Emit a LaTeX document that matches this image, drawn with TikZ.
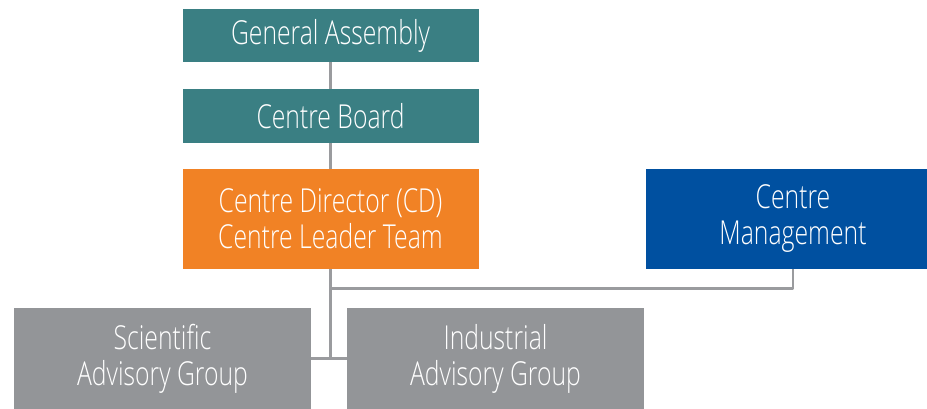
\documentclass[tikz,border=0pt]{standalone}
\usepackage{fontspec}
\setmainfont{Open Sans}[UprightFont=* Light,FakeStretch=0.75]
\definecolor{teal}{HTML}{3A7F83}
\definecolor{orng}{HTML}{F18225}
\definecolor{blu}{HTML}{0050A0}
\definecolor{gry}{HTML}{939598}
\definecolor{lnk}{HTML}{9A9B9E}
\begin{document}
\begin{tikzpicture}[x=1pt,y=-1pt,line join=round,
 box/.style={inner sep=0pt,align=center,text=white,font=\fontsize{33}{36}\selectfont},
 link/.style={draw=lnk,line width=2.8pt}]
 \useasboundingbox (0,0) rectangle (927,409);
 \node[box,fill=teal,minimum width=296pt,minimum height=53pt](ga) at (330.5,35.5){General Assembly};
 \node[box,fill=teal,minimum width=296pt,minimum height=54pt](cb) at (330.5,116){Centre Board};
 \node[box,fill=orng,minimum width=296pt,minimum height=100pt](cd) at (330.5,219){Centre Director (CD)\\Centre Leader Team};
 \node[box,fill=blu,minimum width=294pt,minimum height=100pt](cm) at (793,219){Centre\\Management};
 \node[box,fill=gry,minimum width=297pt,minimum height=101pt](sag) at (162.5,358.5){Scientific\\Advisory Group};
 \node[box,fill=gry,minimum width=297pt,minimum height=101pt](iag) at (495.5,358.5){Industrial\\Advisory Group};
 % connectors
 \coordinate (br) at ([yshift=-19pt]cd.south);
 \draw[link] (ga)--(cb) (cb)--(cd);
 \draw[link] (cd.south)--(cd.south |- sag.east);
 \draw[link] (sag.east)--(iag.west);
 \draw[link] (br)-|(cm.south);
\end{tikzpicture}
\end{document}
